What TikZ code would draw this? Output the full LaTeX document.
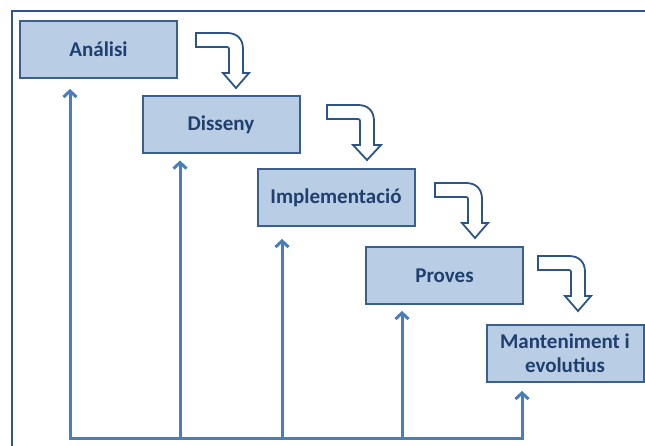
\documentclass[tikz,border=0pt]{standalone}
\usepackage{fontspec}
\setmainfont{Carlito}
\usetikzlibrary{arrows.meta}
\definecolor{boxfill}{HTML}{B9CDE5}
\definecolor{boxline}{HTML}{3A5F8C}
\definecolor{boxtext}{HTML}{1F3F6E}
\definecolor{uparrow}{HTML}{4A7EBB}
\definecolor{bendline}{HTML}{2C5587}
\definecolor{frameline}{HTML}{2F5496}
\tikzset{
  stagebox/.style={draw=boxline, fill=boxfill, line width=2pt,
    minimum width=157pt, minimum height=57pt, inner sep=0pt,
    text=boxtext, font=\fontsize{21}{24}\selectfont\bfseries, align=center},
  feedback/.style={draw=uparrow, line width=3pt,
    -{Straight Barb[length=6pt,width=13pt,line width=3pt]}},
  baseline/.style={draw=uparrow, line width=3pt, line cap=rect},
  bendarrow/.style={draw=bendline, fill=white, line width=1.8pt, line join=miter},
}
\newcommand{\bendshape}[3]{%
  \path[bendarrow] (#1,#2) -- ++(31,0) .. controls +(10,0) and +(0,-10) .. ++(16,16)
    -- ++(0,24) -- ++(#3,0) -- ++(-7-#3,15) -- ++(-7-#3,-15) -- ++(#3,0)
    -- ++(0,-24) .. controls +(0,-1.2) and +(1.2,0) .. ++(-2,-2) -- ++(-31,0) -- cycle;}
\begin{document}
\begin{tikzpicture}[x=1pt,y=-1pt]
\useasboundingbox (0,0) rectangle (645,446);
\draw[frameline, line width=2.5pt] (12,446) -- (12,11) -- (645,11);

\node[stagebox] (ana) at (98.5,49.5) {Análisi};
\node[stagebox] (dis) at (221,125) {Disseny};
\node[stagebox] (imp) at (336,197.5) {Implementació};
\node[stagebox] (pro) at (444.5,275.5) {Proves};
\node[stagebox] (man) at (565,353.5) {Manteniment i\\evolutius};

\bendshape{196}{33}{6}
\bendshape{327}{105}{7}
\bendshape{435}{183}{6}
\bendshape{538}{256}{6}

\coordinate (b1) at (70,438);
\coordinate (b2) at (180,438);
\coordinate (b3) at (282,438);
\coordinate (b4) at (402,438);
\coordinate (b5) at (522,438);

\draw[baseline] (b1) -- (b5);
\draw[feedback] (b1) -- ([yshift=-10pt]b1 |- ana.south);
\draw[feedback] (b2) -- ([yshift=-6pt]b2 |- dis.south);
\draw[feedback] (b3) -- ([yshift=-12pt]b3 |- imp.south);
\draw[feedback] (b4) -- ([yshift=-6pt]b4 |- pro.south);
\draw[feedback] (b5) -- ([yshift=-8pt]b5 |- man.south);
\end{tikzpicture}
\end{document}
